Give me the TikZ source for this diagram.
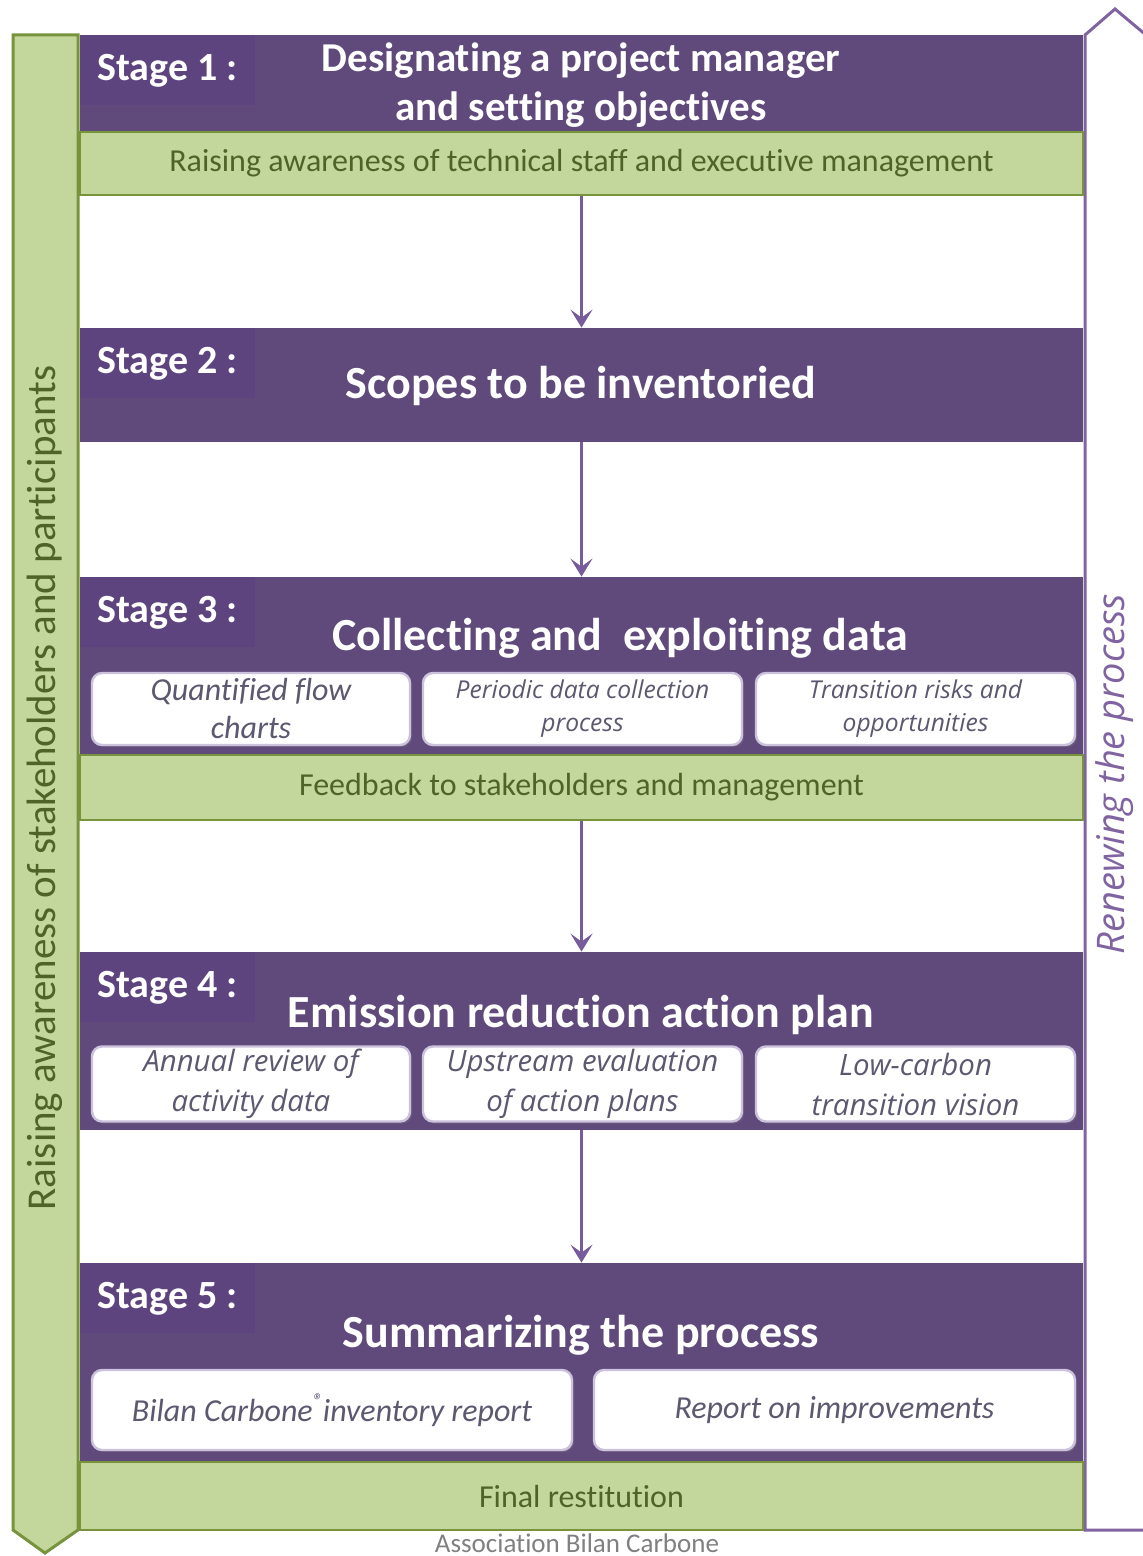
\documentclass[tikz,border=0pt]{standalone}
\usepackage{fontspec}
\setmainfont{Carlito}[Ligatures=NoCommon]
\newfontfamily\roundfont{Open Sans}
\usetikzlibrary{shapes,positioning,arrows.meta,shadows}

\definecolor{stagepurple}{RGB}{96,74,123}
\definecolor{tagpurple}{RGB}{94,68,126}
\definecolor{looppurple}{RGB}{128,100,162}
\definecolor{arrowpurple}{RGB}{118,92,156}
\definecolor{leafgreen}{RGB}{195,214,155}
\definecolor{oliveline}{RGB}{119,147,60}
\definecolor{olivetext}{RGB}{79,98,40}
\definecolor{boxtext}{RGB}{92,88,112}
\definecolor{boxedge}{RGB}{204,194,222}

\begin{document}
\begin{tikzpicture}[x=0.5pt,y=-0.5pt]
  \tikzstyle{stagebar}=[rectangle, fill=stagepurple, minimum width=501.5pt, inner sep=0pt]
  \tikzstyle{stagetag}=[rectangle, fill=tagpurple, anchor=north west, inner xsep=8.5pt, minimum height=35pt, text=white, font=\bfseries\fontsize{20}{24}\selectfont]
  \tikzstyle{stagetitle}=[align=center, text=white, inner sep=0pt, font=\bfseries\fontsize{23}{27}\selectfont]
  \tikzstyle{feedback}=[rectangle, fill=leafgreen, draw=oliveline, line width=0.6pt, minimum width=501.5pt, inner sep=0pt, text=olivetext, font=\fontsize{16}{19}\selectfont]
  \tikzstyle{subtask}=[rectangle, rounded corners=5pt, fill=white, draw=boxedge, line width=1.2pt, align=center, inner sep=0pt, text=boxtext, drop shadow={opacity=0.35, shadow xshift=1pt, shadow yshift=-1pt}]
  \tikzstyle{flowline}=[draw, arrowpurple, line width=1.6pt, -{Stealth[length=9pt, width=11pt, inset=4pt]}]

  \useasboundingbox (0,0) rectangle (1142,1556);

  % side bands
  \draw [fill=leafgreen, draw=oliveline, line width=1.5pt] (13,35) -- (78,35) -- (78,1530) -- (45,1553) -- (13,1530) -- cycle;
  \draw [fill=white, draw=looppurple, line width=1.5pt] (1150,1530) -- (1085,1530) -- (1085,35) -- (1115,9) -- (1146,35) -- (1146,1530);

  \node [rotate=90, text=olivetext, font=\fontsize{20.5}{24}\selectfont] (aware) at (45,788) {Raising awareness of stakeholders and participants};
  \node [rotate=90, text=looppurple, font=\roundfont\itshape\fontsize{19}{22}\selectfont] (renew) at (1115,774) {Renewing the process};

  % stage 1
  \node [stagebar, minimum height=48.5pt] (stage1) at (581.5,83.5) {};
  \node [stagetag] (tag1) at (80,35) {Stage 1 :};
  \node [stagetitle, font=\bfseries\fontsize{20.5}{24.5}\selectfont] (title1) at (581,85) {Designating a project manager\\and setting objectives};
  \node [feedback, minimum height=31.5pt] (fb1) at (581.5,163.5) {Raising awareness of technical staff and executive management};

  % stage 2
  \node [stagebar, minimum height=57pt] (stage2) at (581.5,385) {};
  \node [stagetag] (tag2) at (80,328) {Stage 2 :};
  \node [stagetitle] (title2) at (581,386) {Scopes to be inventoried};

  % stage 3
  \node [stagebar, minimum height=89pt] (stage3) at (581.5,666) {};
  \node [stagetag] (tag3) at (80,577) {Stage 3 :};
  \node [stagetitle] (title3) at (620,638) {Collecting and~ exploiting data};
  \node [subtask, minimum width=159pt, minimum height=36pt, font=\itshape\fontsize{16}{19}\selectfont] (flows) at (251,709) {Quantified flow\\charts};
  \node [subtask, minimum width=159.5pt, minimum height=36pt, font=\roundfont\itshape\fontsize{12.3}{16.5}\selectfont] (periodic) at (582.5,709) {Periodic data collection\\process};
  \node [subtask, minimum width=159.5pt, minimum height=36pt, font=\roundfont\itshape\fontsize{12.3}{16.5}\selectfont] (risks) at (915.5,709) {Transition risks and\\opportunities};
  \node [feedback, minimum height=32.5pt] (fb3) at (581.5,787.5) {Feedback to stakeholders and management};

  % stage 4
  \node [stagebar, minimum height=89pt] (stage4) at (581.5,1041) {};
  \node [stagetag] (tag4) at (80,952) {Stage 4 :};
  \node [stagetitle] (title4) at (581,1015) {Emission reduction action plan};
  \node [subtask, minimum width=159pt, minimum height=37.5pt, font=\roundfont\itshape\fontsize{14.7}{20}\selectfont] (review) at (251,1084) {Annual review of\\activity data};
  \node [subtask, minimum width=159.5pt, minimum height=37.5pt, font=\roundfont\itshape\fontsize{14.7}{20}\selectfont] (upstream) at (582.5,1084) {Upstream evaluation\\of action plans};
  \node [subtask, minimum width=159.5pt, minimum height=37.5pt, font=\roundfont\itshape\fontsize{14.7}{20}\selectfont] (vision) at (915.5,1084) {Low-carbon\\transition vision};

  % stage 5
  \node [stagebar, minimum height=99.5pt] (stage5) at (581.5,1362.5) {};
  \node [stagetag] (tag5) at (80,1263) {Stage 5 :};
  \node [stagetitle] (title5) at (581,1335) {Summarizing the process};
  \node [subtask, minimum width=240pt, minimum height=40pt, font=\itshape\fontsize{16}{19}\selectfont] (inventory) at (332,1410) {Bilan Carbone\raisebox{0.45em}{\fontsize{10}{10}\selectfont ®}inventory report};
  \node [subtask, minimum width=240.5pt, minimum height=40pt, font=\itshape\fontsize{16}{19}\selectfont] (improve) at (834.5,1410) {Report on improvements};
  \node [feedback, minimum height=34pt] (fb5) at (581.5,1496) {Final restitution};

  \node [text=gray, inner sep=0pt, font=\fontsize{13.5}{16}\selectfont] (credit) at (577,1543) {Association Bilan Carbone};

  \draw [flowline] (fb1) to (stage2);
  \draw [flowline] (stage2) to (stage3);
  \draw [flowline] (fb3) to (stage4);
  \draw [flowline] (stage4) to (stage5);
\end{tikzpicture}
\end{document}
